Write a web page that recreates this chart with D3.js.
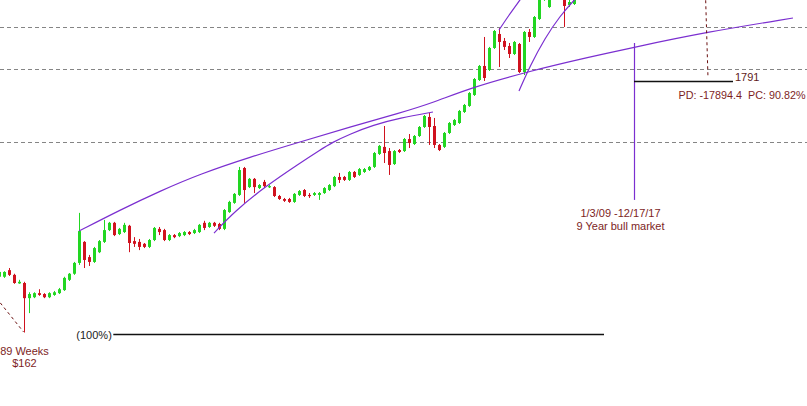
<!DOCTYPE html>
<html>
<head>
<meta charset="utf-8">
<script src="https://cdn.jsdelivr.net/npm/d3@7"></script>
<style>
  html, body { margin: 0; padding: 0; background: #fff; }
  svg { display: block; }
</style>
</head>
<body>
<script>
// monthly candles, oldest first (prices)
const opens = [276, 276, 294, 281, 259, 260, 225, 227, 236, 234, 227, 232, 236, 243, 268, 284, 315, 385, 333, 318,
  349, 385, 431, 462, 415, 423, 449, 388, 385, 378, 367, 392, 436, 431, 392, 411, 407, 411, 423, 419,
  423, 462, 444, 462, 457, 436, 512, 559, 603, 780, 650, 703, 644, 683, 650, 650, 597, 580, 580, 564,
  603, 632, 603, 603, 603, 614, 632, 656, 716, 716, 696, 751, 730, 751, 765, 788, 892, 954, 917, 810,
  926, 917, 1029, 981, 1059, 1154, 1270, 1165, 972, 954, 1090, 1176, 1199, 1332, 1411, 1567, 1808, 2067, 1989, 2455,
  2806, 2625, 2502, 2318, 2550, 1951, 2860, 2727, 3237, 3900, 3630, 4400, 4900, 4272, 3702, 3737]
const highs = [294, 291, 300, 284, 268, 263, 238, 238, 245, 236, 238, 241, 248, 276, 286, 318, 508, 388, 340, 367,
  392, 475, 466, 466, 440, 462, 453, 403, 396, 381, 396, 444, 444, 436, 415, 415, 423, 427, 427, 436,
  457, 471, 466, 466, 462, 527, 570, 614, 788, 788, 709, 709, 669, 696, 663, 656, 603, 586, 586, 614,
  632, 638, 614, 620, 620, 650, 669, 723, 744, 723, 758, 758, 780, 780, 795, 909, 972, 1165, 944, 926,
  935, 1039, 1079, 1069, 1165, 1294, 1319, 1258, 981, 1100, 1210, 1246, 1358, 1438, 1611, 1843, 2087, 2727, 2480, 2915,
  2971, 2701, 2575, 2625, 2575, 2887, 2943, 3332, 4073, 4600, 4700, 5000, 5000, 4400, 3882, 4000]
const lows = [273, 273, 278, 258, 258, 162, 195, 225, 230, 225, 225, 230, 234, 241, 265, 281, 309, 300, 306, 315,
  346, 381, 427, 407, 411, 419, 349, 367, 356, 363, 363, 388, 411, 388, 388, 399, 403, 407, 411, 415,
  419, 431, 440, 444, 431, 431, 508, 554, 597, 559, 644, 614, 638, 644, 644, 591, 575, 564, 559, 559,
  597, 591, 586, 597, 575, 609, 626, 650, 676, 689, 689, 709, 723, 744, 758, 780, 883, 818, 730, 803,
  900, 909, 944, 972, 1049, 1143, 972, 944, 917, 944, 1079, 1165, 1188, 1319, 1398, 1552, 1791, 1791, 1970, 2432,
  2047, 2408, 2231, 2296, 1933, 1896, 2600, 2701, 3207, 3850, 3600, 4300, 4300, 3000, 3632, 3702]
const closes = [289, 289, 281, 260, 263, 225, 234, 236, 232, 227, 236, 238, 245, 273, 284, 315, 427, 324, 318, 363,
  388, 431, 462, 411, 436, 453, 381, 378, 367, 367, 392, 440, 423, 392, 411, 403, 419, 423, 415, 431,
  453, 440, 462, 449, 436, 522, 564, 609, 765, 632, 703, 650, 663, 656, 656, 597, 580, 570, 564, 609,
  626, 597, 597, 614, 614, 644, 663, 716, 696, 696, 751, 716, 772, 772, 788, 900, 963, 900, 803, 917,
  909, 1029, 991, 1059, 1154, 1282, 1154, 972, 926, 1090, 1199, 1234, 1345, 1424, 1596, 1825, 2067, 1843, 2455, 2887,
  2600, 2480, 2318, 2600, 1951, 2860, 2727, 3300, 3956, 4500, 4400, 4900, 4400, 3667, 3808, 3956]

// horizontal price grid
const gridLevels = [1000, 2000, 3000]

// hand-drawn trend arcs, [candle index, price]
const longArc = [[16, 427], [24.2, 522], [32.2, 626], [40.2, 737], [50.2, 866], [60.2, 1000], [70.2, 1154],
  [80.2, 1319], [86.8, 1455], [94.2, 1675], [106.2, 1970], [118.2, 2253], [127, 2472], [141.6, 2860], [158.8, 3268]]
const midArc = [[43, 419], [47.2, 517], [53.4, 657], [60.2, 818], [64.2, 926], [66.6, 995], [70.2, 1079],
  [74.8, 1176], [80.2, 1258], [86.8, 1332]]
const steepArc = [[104, 1628], [106.2, 2067], [109.2, 2701], [112.2, 3332], [115, 3882], [118.2, 4524]]
const topArc = [[100, 2915], [102, 3364], [104.2, 3882], [106.2, 4439]]

// annotations
const bullSpan = {index: 127, top: 2575, bottom: 575, labels: ['1/3/09 -12/17/17', '9 Year bull market']}
const target = {from: 127, to: 146.8, price: 1791, label: '1791', stats: 'PD: -17894.4  PC: 90.82%', statsAt: 135.9}
const projection = [[141.3, 4100], [141.8, 1843]]
const lowDash = [[-2, 246], [4.9, 163]]
const retrace = {from: 22.86, to: 121, price: 159, label: '(100%)'}
const lowMark = {index: 5, price: 162, labels: ['89 Weeks', '$162']}

const width = 807, height = 406
const purple = '#7b2fd0', maroon = '#7d1e1e'
const upColor = '#22d622', downColor = '#d0121e'

const svg = d3.select('body')
  .append('svg')
  .attr('width', width)
  .attr('height', height)
  .style('font-family', '"Liberation Sans", Arial, sans-serif')
  .style('font-size', '11px')

const x = d3.scaleLinear()
  .domain([0, opens.length - 1])
  .range([-1, 574])
const y = d3.scaleLog()
  .domain([80.3, 3882])
  .range([height, 0])

const crisp = v => Math.round(v) + 0.5

// grid
svg.append('g').selectAll('line').data(gridLevels).enter()
  .append('line')
  .attr('x1', 0)
  .attr('x2', width)
  .attr('y1', d => crisp(y(d)))
  .attr('y2', d => crisp(y(d)))
  .attr('stroke', '#858585')
  .attr('stroke-dasharray', '4,3')

// candles
const candles = d3.range(opens.length).map(i => ({
  i, o: opens[i], h: highs[i], l: lows[i], c: closes[i]
}))
const colorOf = d => d.c >= d.o ? upColor : downColor

const g = svg.append('g')
g.selectAll('line.wick').data(candles).enter()
  .append('line')
  .attr('class', 'wick')
  .attr('x1', d => x(d.i) + 0.5)
  .attr('x2', d => x(d.i) + 0.5)
  .attr('y1', d => y(d.h))
  .attr('y2', d => y(d.l))
  .attr('stroke', colorOf)
  .attr('stroke-width', 1)

g.selectAll('rect').data(candles).enter()
  .append('rect')
  .attr('x', d => x(d.i) - 1)
  .attr('width', 3)
  .attr('y', d => y(Math.max(d.o, d.c)))
  .attr('height', d => Math.max(1.2, Math.abs(y(d.o) - y(d.c))))
  .attr('fill', colorOf)

// trend arcs
const arc = d3.line()
  .x(d => x(d[0]))
  .y(d => y(d[1]))
  .curve(d3.curveBasis)

svg.append('g').selectAll('path').data([longArc, midArc, steepArc, topArc]).enter()
  .append('path')
  .attr('d', arc)
  .attr('fill', 'none')
  .attr('stroke', purple)
  .attr('stroke-width', 1.2)

// bull market span
svg.append('line')
  .attr('x1', crisp(x(bullSpan.index)))
  .attr('x2', crisp(x(bullSpan.index)))
  .attr('y1', y(bullSpan.top))
  .attr('y2', y(bullSpan.bottom))
  .attr('stroke', purple)
  .attr('stroke-width', 1.2)

svg.append('g').selectAll('text').data(bullSpan.labels).enter()
  .append('text')
  .attr('x', x(bullSpan.index) - 13.5)
  .attr('y', (d, k) => y(bullSpan.bottom) + 17 + k * 13)
  .attr('text-anchor', 'middle')
  .attr('fill', maroon)
  .text(d => d)

// target level
svg.append('line')
  .attr('x1', x(target.from))
  .attr('x2', x(target.to))
  .attr('y1', crisp(y(target.price)))
  .attr('y2', crisp(y(target.price)))
  .attr('stroke', '#111')
  .attr('stroke-width', 1.3)

svg.append('text')
  .attr('x', x(target.to) + 2)
  .attr('y', y(target.price) + 0.5)
  .attr('fill', '#5e1a1a')
  .text(target.label)

svg.append('text')
  .attr('x', x(target.statsAt))
  .attr('y', y(target.price) + 18.5)
  .attr('fill', maroon)
  .attr('textLength', 127)
  .attr('lengthAdjust', 'spacingAndGlyphs')
  .style('white-space', 'pre')
  .text(target.stats)

// dashed guides
const straight = d3.line().x(d => x(d[0])).y(d => y(d[1]))
svg.append('g').selectAll('path').data([projection, lowDash]).enter()
  .append('path')
  .attr('d', straight)
  .attr('fill', 'none')
  .attr('stroke', '#6a1010')
  .attr('stroke-width', 1)
  .attr('stroke-dasharray', '3,3')

// 100% retracement
svg.append('line')
  .attr('x1', x(retrace.from))
  .attr('x2', x(retrace.to))
  .attr('y1', crisp(y(retrace.price)))
  .attr('y2', crisp(y(retrace.price)))
  .attr('stroke', '#111')
  .attr('stroke-width', 1.3)

svg.append('text')
  .attr('x', x(retrace.from) - 1.5)
  .attr('y', y(retrace.price) + 4.5)
  .attr('text-anchor', 'end')
  .attr('fill', '#222')
  .text(retrace.label)

// low marker labels
svg.append('g').selectAll('text').data(lowMark.labels).enter()
  .append('text')
  .attr('x', x(lowMark.index) + 0.5)
  .attr('y', (d, k) => y(lowMark.price) + 22.5 + k * 12)
  .attr('text-anchor', 'middle')
  .attr('fill', maroon)
  .text(d => d)
</script>
</body>
</html>
